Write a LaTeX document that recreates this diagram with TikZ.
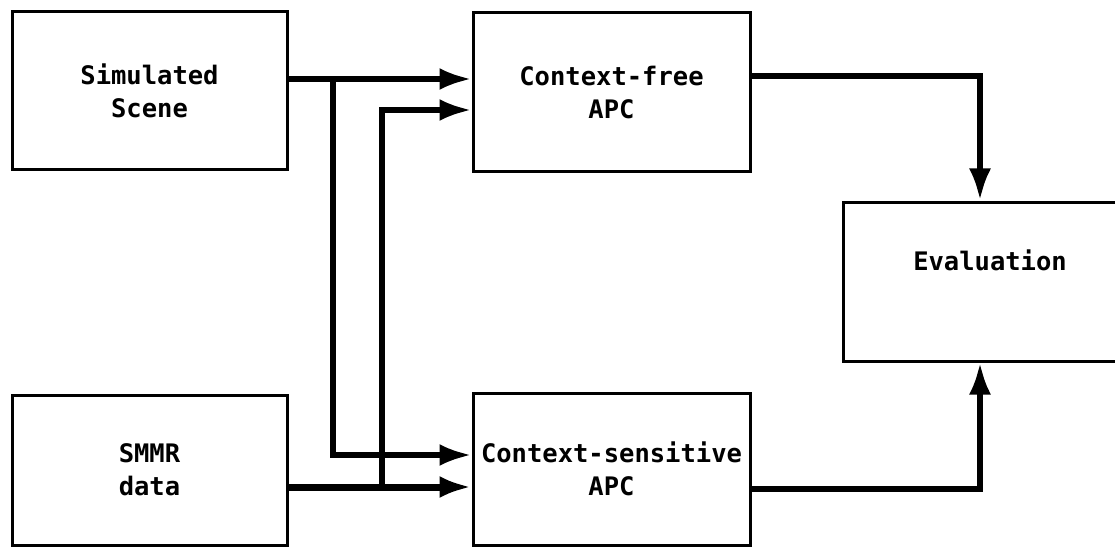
\documentclass[tikz,border=0pt]{standalone}
\usepackage{fontspec}
\setmonofont{DejaVu Sans Mono}
\usetikzlibrary{arrows.meta}
\begin{document}
\begin{tikzpicture}[x=1pt,y=-1pt,
  box/.style={draw, line width=3pt, rectangle, inner sep=0pt, align=center,
    font=\ttfamily\bfseries\fontsize{25.5}{33}\selectfont},
  lbl/.style={inner sep=0pt, align=center, font=\ttfamily\bfseries\fontsize{25.5}{33}\selectfont},
  conn/.style={line width=5.5pt, -{Latex[length=32pt,width=22pt]}},
  thickconn/.style={line width=7pt, -{Latex[length=32pt,width=22pt]}}]
\useasboundingbox (0,0) rectangle (1115,548);
\clip (0,0) rectangle (1115,548);
% boxes
\node[box, minimum width=275pt, minimum height=158pt] (sim) at (149.5,91) {Simulated\\Scene};
\node[box, minimum width=275pt, minimum height=150pt] (smmr) at (149.5,470) {SMMR\\data};
\node[box, minimum width=277pt, minimum height=159pt] (cf) at (611.5,92.5) {Context-free\\APC};
\node[box, minimum width=277pt, minimum height=152pt] (cs) at (611.5,469) {Context-sensitive\\APC};
\node[box, minimum width=274pt, minimum height=159pt] (ev) at (980,281.5) {};
\node[lbl] (evtext) at (990,260) {Evaluation};
% junction coordinates
\coordinate (j1) at (333,79);
\coordinate (k1) at (333,455);
\coordinate (j2) at (382,110);
\coordinate (k2) at (382,487);
\coordinate (r1) at (980,76);
\coordinate (r2) at (980,489);
% connectors
\draw[conn] (sim.east |- j1) -- (cf.west |- j1);
\draw[conn] (j1) -- (k1) -- (cs.west |- k1);
\draw[thickconn] (smmr.east |- k2) -- (cs.west |- k2);
\draw[conn] (k2) -- (j2) -- (cf.west |- j2);
\draw[conn] (cf.east |- r1) -| (ev.north);
\draw[conn] (cs.east |- r2) -| (ev.south);
\end{tikzpicture}
\end{document}
